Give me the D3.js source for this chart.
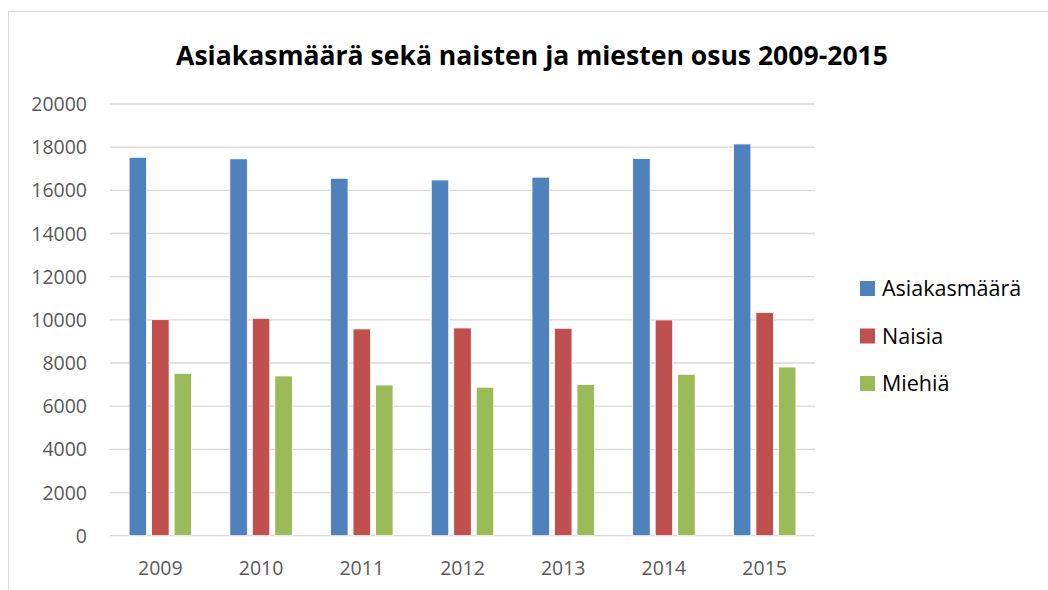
<!DOCTYPE html>
<html><head><meta charset="utf-8">
<script src="https://cdn.jsdelivr.net/npm/d3@7"></script>
<style>body{margin:0;background:#fff;}svg{display:block;}</style>
</head><body>
<script>
const categories = ["2009","2010","2011","2012","2013","2014","2015"];
const seriesNames = ["Asiakasmäärä","Naisia","Miehiä"];
const asiakasmaara = [17530,17460,16560,16480,16610,17470,18150];
const naisia = [10010,10070,9580,9625,9610,9995,10335];
const miehia = [7525,7400,6985,6880,7000,7480,7815];
const yTicks = [0,2000,4000,6000,8000,10000,12000,14000,16000,18000,20000];
const colors = ["#4f81bd","#c0504d","#9bbb59"];
const title = "Asiakasmäärä sekä naisten ja miesten osus 2009-2015";

(function(){
const W=1048,H=590;
const svg=d3.select("body").append("svg").attr("width",W).attr("height",H);
svg.append("rect").attr("x",8.5).attr("y",11.5).attr("width",W).attr("height",H).attr("fill","#fff").attr("stroke","#d9d9d9");

const pL=110,pR=815,pT=104,pB=535.7;
const x=d3.scaleBand().domain(categories).range([pL,pR]);
const y=d3.scaleLinear().domain([0,20000]).range([pB,pT]);
const groupW=62.5;
const sx=d3.scaleBand().domain(seriesNames).range([0,groupW]).paddingInner(0.222);

svg.append("g").selectAll("line").data(yTicks).join("line")
  .attr("x1",pL).attr("x2",pR).attr("y1",d=>y(d)).attr("y2",d=>y(d))
  .attr("stroke","#d9d9d9").attr("stroke-width",1.3);

const font="'Open Sans', 'Noto Sans', sans-serif";
svg.append("g").selectAll("text").data(yTicks).join("text")
  .attr("x",87).attr("y",d=>y(d)).attr("dy","0.36em").attr("text-anchor","end")
  .attr("fill","#595959").style("font-family",font).style("font-size","19.5px").text(d=>d);

svg.append("g").selectAll("text").data(categories).join("text")
  .attr("x",d=>x(d)+x.bandwidth()/2).attr("y",575).attr("text-anchor","middle")
  .attr("fill","#595959").style("font-family",font).style("font-size","19.5px").text(d=>d);

const data=[asiakasmaara,naisia,miehia];
const gOff=(x.bandwidth()-groupW)/2;
seriesNames.forEach((s,i)=>{
  svg.append("g").selectAll("rect").data(data[i]).join("rect")
    .attr("x",(d,j)=>x(categories[j])+gOff+sx(s))
    .attr("y",d=>y(d)).attr("width",sx.bandwidth()).attr("height",d=>pB-y(d))
    .attr("fill",colors[i]).attr("stroke","#fff").attr("stroke-width",0.8);
});

const t=svg.append("text").attr("x",532).attr("y",65).attr("text-anchor","middle")
  .style("font-family",font).style("font-weight","bold").style("font-size","24px")
  .attr("fill","#000").text(title);
const tw=t.node().getComputedTextLength();
t.style("font-size",(24*712/tw)+"px");

const lg=svg.append("g");
seriesNames.forEach((s,i)=>{
  const yy=288.5+i*47.5;
  lg.append("rect").attr("x",860).attr("y",yy-7.5).attr("width",15).attr("height",15).attr("fill",colors[i]);
  lg.append("text").attr("x",882).attr("y",yy).attr("dy","0.36em").attr("fill","#000")
    .style("font-family",font).style("font-size","21.5px").text(s);
});
})();
</script>
</body></html>
